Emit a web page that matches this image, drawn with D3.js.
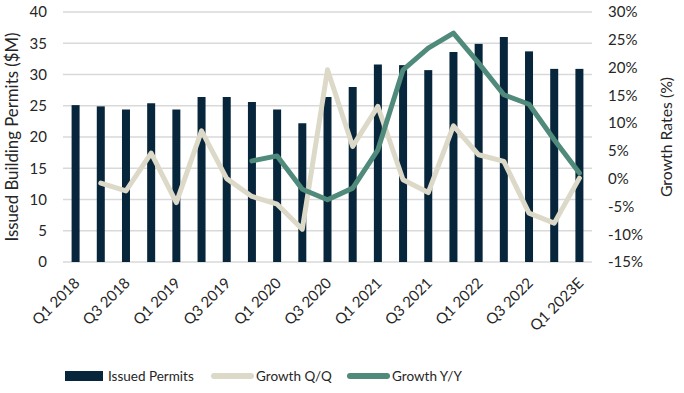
<!DOCTYPE html>
<html>
<head>
<meta charset="utf-8">
<script src="https://cdn.jsdelivr.net/npm/d3@7"></script>
<style>
  body { margin: 0; background: #fff; }
  text { font-family: Lato, "Open Sans", sans-serif; fill: #262626; }
</style>
</head>
<body>
<div id="chart"></div>
<script>
const quarters = ["Q1 2018","Q2 2018","Q3 2018","Q4 2018","Q1 2019","Q2 2019","Q3 2019","Q4 2019",
  "Q1 2020","Q2 2020","Q3 2020","Q4 2020","Q1 2021","Q2 2021","Q3 2021","Q4 2021",
  "Q1 2022","Q2 2022","Q3 2022","Q4 2022","Q1 2023E"];
const permits = [25.1, 24.9, 24.4, 25.4, 24.4, 26.4, 26.4, 25.6, 24.4, 22.2, 26.4, 28.0,
  31.6, 31.5, 30.7, 33.6, 34.9, 36.0, 33.7, 30.9, 30.9];
// growth rates in %, null where no value
const growthQQ = [null, -0.8, -2.2, 4.6, -4.3, 8.6, 0.0, -3.2, -4.6, -9.1, 19.6, 5.8,
  13.0, -0.2, -2.5, 9.5, 4.3, 3.1, -6.2, -8.0, 0.1];
const growthYY = [null, null, null, null, null, null, null, 3.2, 4.1, -1.9, -3.8, -1.7,
  5.2, 19.6, 23.5, 26.2, 20.8, 15.1, 13.4, 7.0, 1.0];
const leftTicks = [0, 5, 10, 15, 20, 25, 30, 35, 40];
const rightTicks = [-15, -10, -5, 0, 5, 10, 15, 20, 25, 30];
const xLabels = quarters.filter((d, i) => i % 2 === 0);

const W = 684, H = 393;
const margin = { top: 12, right: 92, bottom: 131, left: 63 };
const width = W - margin.left - margin.right,
      height = H - margin.top - margin.bottom;

const svg = d3.select("#chart").append("svg")
    .attr("width", W)
    .attr("height", H);

const g = svg.append("g")
    .attr("transform", `translate(${margin.left},${margin.top})`);

const x = d3.scaleBand().domain(quarters).range([0, width]);
const yL = d3.scaleLinear().domain([0, 40]).range([height, 0]);
const yR = d3.scaleLinear().domain([-15, 30]).range([height, 0]);

// gridlines
g.append("g")
    .selectAll("line")
    .data(leftTicks)
    .enter()
    .append("line")
    .attr("x1", 0)
    .attr("x2", width)
    .attr("y1", d => yL(d))
    .attr("y2", d => yL(d))
    .attr("stroke", "#d9d9d9")
    .attr("stroke-width", 1.5);

// axes (labels only)
const leftAxis = g.append("g")
    .call(d3.axisLeft(yL).tickValues(leftTicks).tickSize(0).tickPadding(16));
leftAxis.select(".domain").remove();
leftAxis.selectAll("text").style("font-size", "15px").attr("fill", "#262626");

const rightAxis = g.append("g")
    .attr("transform", `translate(${width},0)`)
    .call(d3.axisRight(yR).tickValues(rightTicks).tickSize(0).tickPadding(16)
      .tickFormat(d => d + "%"));
rightAxis.select(".domain").remove();
rightAxis.selectAll("text").style("font-size", "15px").attr("fill", "#262626");

// bars
const barW = 8;
g.selectAll("rect.bar")
    .data(permits)
    .enter()
    .append("rect")
    .attr("class", "bar")
    .attr("x", (d, i) => x(quarters[i]) + x.bandwidth() / 2 - barW / 2)
    .attr("y", d => yL(d))
    .attr("width", barW)
    .attr("height", d => height - yL(d))
    .attr("fill", "#08263b");

// lines
const line = d3.line()
    .defined(d => d.v !== null)
    .x(d => x(d.q) + x.bandwidth() / 2)
    .y(d => yR(d.v));

g.append("path")
    .datum(quarters.map((q, i) => ({ q: q, v: growthQQ[i] })))
    .attr("d", line)
    .attr("fill", "none")
    .attr("stroke", "#ddd9c8")
    .attr("stroke-width", 5)
    .attr("stroke-linejoin", "round")
    .attr("stroke-linecap", "round");

g.append("path")
    .datum(quarters.map((q, i) => ({ q: q, v: growthYY[i] })))
    .attr("d", line)
    .attr("fill", "none")
    .attr("stroke", "#4f8a7b")
    .attr("stroke-width", 5)
    .attr("stroke-linejoin", "round")
    .attr("stroke-linecap", "round");

// x labels, top-right corner sits under the band centre
g.append("g")
    .selectAll("text")
    .data(xLabels)
    .enter()
    .append("text")
    .attr("transform", d => `translate(${x(d) + x.bandwidth() / 2 + 5},${height + 22}) rotate(-45)`)
    .attr("text-anchor", "end")
    .style("font-size", "15px")
    .text(d => d);

// axis titles
svg.append("text")
    .attr("transform", `translate(18,${margin.top + height / 2}) rotate(-90)`)
    .attr("text-anchor", "middle")
    .style("font-size", "16.8px")
    .text("Issued Building Permits ($M)");

svg.append("text")
    .attr("transform", `translate(672,${margin.top + height / 2}) rotate(-90)`)
    .attr("text-anchor", "middle")
    .style("font-size", "15.8px")
    .text("Growth Rates (%)");

// legend
const legend = svg.append("g").attr("transform", "translate(0,376)");
legend.append("rect")
    .attr("x", 65).attr("y", -5).attr("width", 38).attr("height", 10)
    .attr("fill", "#08263b");
legend.append("text").attr("x", 108).attr("y", 5).style("font-size", "13.5px").text("Issued Permits");
legend.append("line")
    .attr("x1", 214).attr("x2", 251).attr("y1", 0).attr("y2", 0)
    .attr("stroke", "#ddd9c8").attr("stroke-width", 6).attr("stroke-linecap", "round");
legend.append("text").attr("x", 256).attr("y", 5).style("font-size", "13.5px").text("Growth Q/Q");
legend.append("line")
    .attr("x1", 350).attr("x2", 387).attr("y1", 0).attr("y2", 0)
    .attr("stroke", "#4f8a7b").attr("stroke-width", 6).attr("stroke-linecap", "round");
legend.append("text").attr("x", 392).attr("y", 5).style("font-size", "13.5px").text("Growth Y/Y");
</script>
</body>
</html>
